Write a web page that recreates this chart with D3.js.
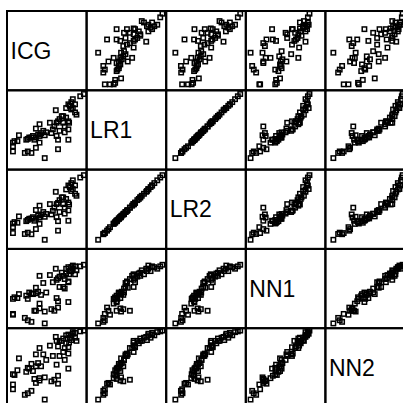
<!DOCTYPE html>
<html>
<head>
<meta charset="utf-8">
<script src="https://cdn.jsdelivr.net/npm/d3@7"></script>
<style>
  body { margin: 0; background: #fff; }
  svg { display: block; }
</style>
</head>
<body>
<div id="chart"></div>
<script>
// variable names shown on the diagonal
const names = ["ICG", "LR1", "LR2", "NN1", "NN2"];

// values (0..100 = position across each panel)
const ICG = [7.5,7.5,7.5,9.4,15,13.1,22.4,24.2,26.1,27.9,30.7,32.6,34.4,36.3,39.1,40.9,40.9,36.3,42.8,45.6,47.4,49.3,40.9,36.3,30.7,26.1,47.4,53.9,55.8,57.6,59.5,61.3,62.3,64.1,66,68.8,62.3,64.1,66,70.6,72.5,70.6,74.3,77.1,78,77.1,72.5,77.1,64.1,74.3,77.1,79,80.8,82.7,85.5,87.3,85.5,82.7,92,96.6,80.8];
const LR1 = [34,29.4,22.9,35.9,43.3,35.9,21,37.7,38.7,40.5,40.5,42.4,37.7,40.5,44.2,42.4,57.2,51.7,46.1,48.9,43.3,47,34,27.5,21,22.9,14.5,59.1,46.1,50.7,54.4,74.9,59.1,60.9,63.7,67.4,42.4,37.7,48.9,59.1,54.4,67.4,65.6,60.9,59.1,50.7,47,37.7,25.7,77.6,82.3,80.4,75.8,77.6,72.1,69.3,82.3,88.8,92.5,95.3,85.1];
const LR2 = [32,27.4,20,33.8,41,33,18.8,35,36.5,38,38.4,40,35.5,38,42,39.5,54.5,49,43.5,46.5,40.5,44,31.5,25,18.5,20.5,11.5,56.5,43.5,48,52,72,56.5,58,61.5,65,40,35,46.5,56.5,52,65,63,58.5,56,48.5,44.5,35.5,23,75,80,78,73,75.5,69.5,67,80,86.5,90,93,83];
const NN1 = [37,17,18,39,43,38,13,41,37,45,44,43,22,44,46,25,66,51,42,57,21,45,31,22,8,10,6,67,24,58,22,75,61,63,65,70,38,34,52,52,62,66,69,58,68,59,50,33,26,75,77,72,72,79,68,73,78,75,78,80,77];
const NN2 = [42,29,23,41,62,47,16,45,50,49,55,46,36,52,56,34,75,67,52,67,38,60,37,31,21,18,10,78,33,65,35,89,84,77,84,84,54,40,65,70,75,87,81,76,82,68,60,49,30,91,92,88,85,93,88,84,94,95,96,97,91];

const series = [ICG, LR1, LR2, NN1, NN2];

const W = 403, H = 403;
const LEFT = 7, TOP = 11;
const CW = 79.6, CH = 79.3;

const svg = d3.select("#chart")
    .append("svg")
    .attr("width", W)
    .attr("height", H)

svg.append("rect")
    .attr("width", W)
    .attr("height", H)
    .attr("fill", "#fff")

names.forEach((rowName, i) => {
    names.forEach((colName, j) => {
        const x0 = LEFT + j * CW, y0 = TOP + i * CH;

        const x = d3.scaleLinear().domain([0, 100]).range([x0, x0 + CW])
        const y = d3.scaleLinear().domain([0, 100]).range([y0 + CH, y0])

        const g = svg.append("g")

        if (i === j) {
            // diagonal: just the variable name
            g.append("text")
                .attr("x", x0 + 3.5)
                .attr("y", y0 + CH / 2 + 8)
                .attr("font-family", "Liberation Sans, Arial, sans-serif")
                .attr("font-size", 23)
                .attr("fill", "#000")
                .text(rowName)
        } else {
            const pts = series[j].map((v, k) => [v, series[i][k]])
            g.selectAll("rect")
                .data(pts)
                .enter().append("rect")
                .attr("x", d => x(d[0]) - 2.2)
                .attr("y", d => y(d[1]) - 2.2)
                .attr("width", 4.4)
                .attr("height", 4.4)
                .attr("fill", "none")
                .attr("stroke", "#000")
                .attr("stroke-width", 1.5)
        }

        // panel frame
        svg.append("rect")
            .attr("x", x0)
            .attr("y", y0)
            .attr("width", CW)
            .attr("height", CH)
            .attr("fill", "none")
            .attr("stroke", "#000")
            .attr("stroke-width", 2)
    })
})
</script>
</body>
</html>
